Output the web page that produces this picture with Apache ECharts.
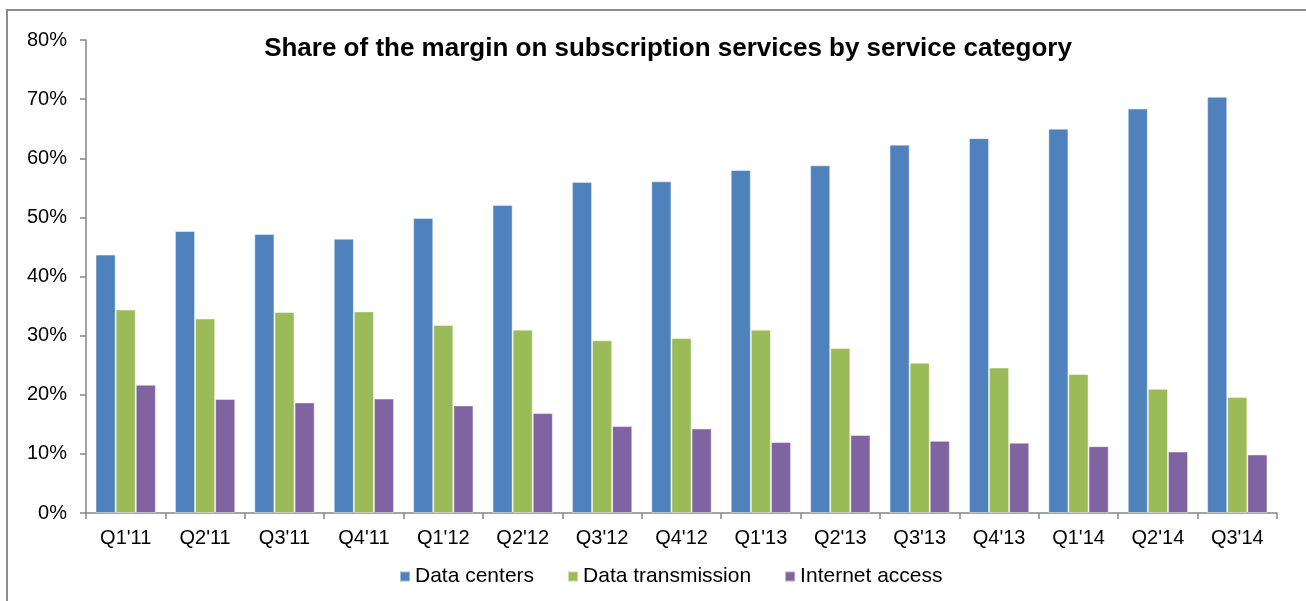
<!DOCTYPE html>
<html>
<head>
<meta charset="utf-8">
<script src="https://cdn.jsdelivr.net/npm/echarts@6/dist/echarts.min.js"></script>
<style>
  html, body { margin: 0; padding: 0; background: #fff; }
  #chart { width: 1306px; height: 601px; }
</style>
</head>
<body>
<div id="chart"></div>
<script>
const quarters = ["Q1'11", "Q2'11", "Q3'11", "Q4'11", "Q1'12", "Q2'12", "Q3'12", "Q4'12",
    "Q1'13", "Q2'13", "Q3'13", "Q4'13", "Q1'14", "Q2'14", "Q3'14"];
const dataCenters = [43.7, 47.7, 47.2, 46.4, 49.9, 52.1, 56.0, 56.1, 58.0, 58.8, 62.3, 63.4, 65.0, 68.4, 70.4];
const dataTransmission = [34.4, 32.9, 34.0, 34.1, 31.8, 31.0, 29.2, 29.6, 31.0, 27.9, 25.4, 24.6, 23.5, 21.0, 19.6];
const internetAccess = [21.7, 19.3, 18.7, 19.35, 18.2, 16.9, 14.7, 14.3, 12.0, 13.2, 12.2, 11.9, 11.3, 10.4, 9.9];

const chart = echarts.init(document.getElementById('chart'));
const font = 'Liberation Sans, Arial, sans-serif';
const axisGrey = '#868686';

function barSeries(name, data, color) {
    return {
        name: name,
        type: 'bar',
        data: data,
        barGap: '0%',
        barCategoryGap: '24%',
        itemStyle: {
            color: color,
            borderColor: 'rgba(255,255,255,0.45)',
            borderWidth: 1
        },
        animation: false
    };
}

const option = {
    backgroundColor: '#fff',
    title: {
        text: 'Share of the margin on subscription services by service category',
        left: 663,
        top: 31,
        textAlign: 'center',
        textStyle: { fontFamily: font, fontSize: 26, fontWeight: 'bold', color: '#000' }
    },
    legend: {
        top: 561,
        left: 394,
        icon: 'rect',
        itemWidth: 10,
        itemHeight: 10,
        itemGap: 33,
        textStyle: { fontFamily: font, fontSize: 21, color: '#000' },
        data: ['Data centers', 'Data transmission', 'Internet access']
    },
    grid: { left: 86, right: 29, top: 40, bottom: 88, containLabel: false },
    xAxis: {
        type: 'category',
        data: quarters,
        axisLine: { lineStyle: { color: axisGrey, width: 1.5 } },
        axisTick: { show: true, length: 6, lineStyle: { color: axisGrey, width: 1.5 } },
        axisLabel: { fontFamily: font, fontSize: 20, color: '#000', margin: 15 }
    },
    yAxis: {
        type: 'value',
        min: 0,
        max: 80,
        interval: 10,
        axisLine: { show: true, lineStyle: { color: axisGrey, width: 1.5 } },
        axisTick: { show: true, length: 6, lineStyle: { color: axisGrey, width: 1.5 } },
        splitLine: { show: false },
        axisLabel: { fontFamily: font, fontSize: 20, color: '#000', margin: 19, formatter: '{value}%' }
    },
    graphic: [{
        type: 'rect',
        shape: { x: 7, y: 10, width: 1320, height: 700 },
        style: { fill: 'none', stroke: '#8c8c8c', lineWidth: 2 },
        silent: true
    }],
    series: [
        barSeries('Data centers', dataCenters, '#4F81BD'),
        barSeries('Data transmission', dataTransmission, '#9BBB59'),
        barSeries('Internet access', internetAccess, '#8064A2')
    ]
};

chart.setOption(option);
</script>
</body>
</html>
